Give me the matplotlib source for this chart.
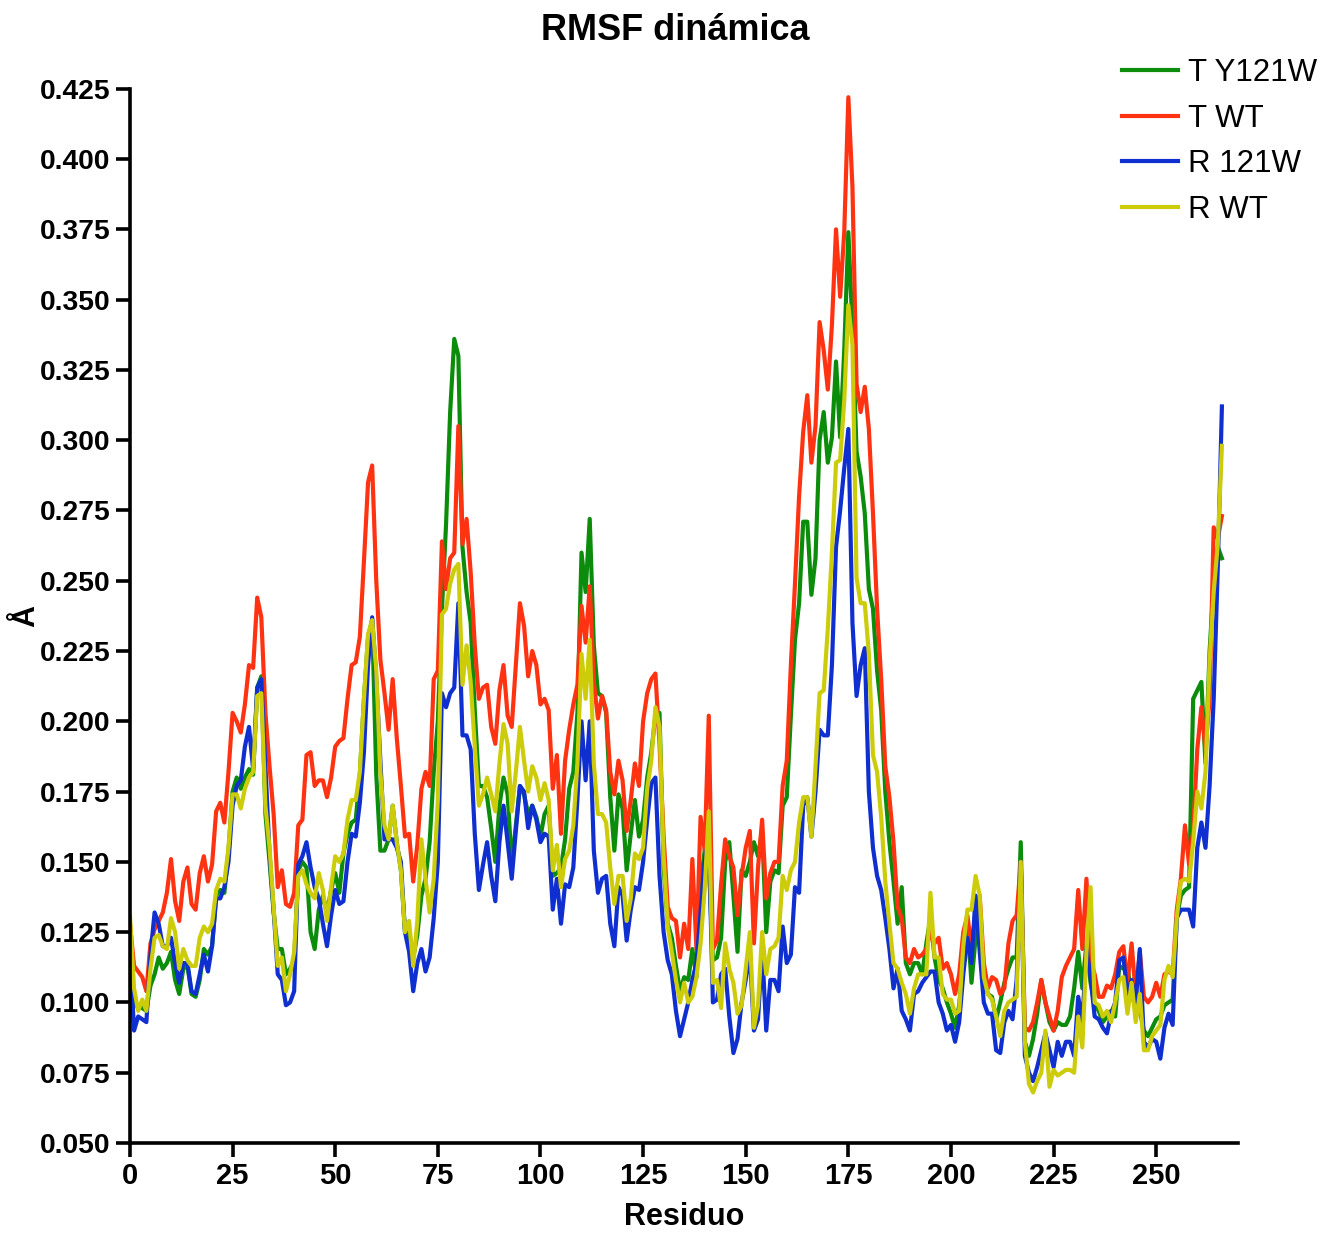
"""
RMSF dinámica: 4 trayectorias (T/R, WT y mutante) por residuo
"""

import numpy as np
import matplotlib
matplotlib.use('Agg')
import matplotlib.pyplot as plt

matplotlib.rcParams['font.family'] = ['Liberation Sans', 'DejaVu Sans']

# RMSF por residuo (Å)
T_Y121W = [
    0.122, 0.100, 0.098, 0.098, 0.097, 0.106, 0.110, 0.116, 0.112, 0.114,
    0.118, 0.108, 0.103, 0.112, 0.113, 0.103, 0.102, 0.108, 0.119, 0.117,
    0.120, 0.138, 0.140, 0.139, 0.154, 0.175, 0.180, 0.176, 0.180, 0.183,
    0.181, 0.212, 0.216, 0.167, 0.150, 0.132, 0.119, 0.119, 0.110, 0.112,
    0.115, 0.147, 0.150, 0.148, 0.125, 0.119, 0.133, 0.138, 0.132, 0.140,
    0.146, 0.139, 0.153, 0.160, 0.164, 0.165, 0.181, 0.208, 0.230, 0.236,
    0.181, 0.154, 0.154, 0.158, 0.170, 0.157, 0.147, 0.125, 0.125, 0.116,
    0.124, 0.138, 0.144, 0.157, 0.182, 0.200, 0.240, 0.270, 0.310, 0.336,
    0.330, 0.262, 0.246, 0.235, 0.204, 0.177, 0.177, 0.173, 0.162, 0.150,
    0.170, 0.180, 0.174, 0.149, 0.163, 0.177, 0.174, 0.167, 0.170, 0.166,
    0.159, 0.167, 0.170, 0.145, 0.146, 0.148, 0.158, 0.176, 0.182, 0.203,
    0.260, 0.246, 0.272, 0.227, 0.210, 0.209, 0.203, 0.173, 0.154, 0.174,
    0.169, 0.147, 0.160, 0.172, 0.159, 0.165, 0.180, 0.189, 0.202, 0.203,
    0.148, 0.128, 0.123, 0.113, 0.104, 0.109, 0.108, 0.119, 0.109, 0.142,
    0.154, 0.150, 0.115, 0.116, 0.123, 0.150, 0.157, 0.138, 0.118, 0.147,
    0.145, 0.150, 0.157, 0.152, 0.161, 0.125, 0.143, 0.147, 0.146, 0.170,
    0.173, 0.202, 0.229, 0.242, 0.271, 0.271, 0.245, 0.258, 0.300, 0.310,
    0.292, 0.301, 0.328, 0.301, 0.332, 0.374, 0.340, 0.296, 0.287, 0.274,
    0.247, 0.240, 0.218, 0.204, 0.175, 0.157, 0.143, 0.128, 0.141, 0.114,
    0.110, 0.114, 0.114, 0.110, 0.121, 0.130, 0.116, 0.108, 0.105, 0.100,
    0.096, 0.091, 0.099, 0.115, 0.129, 0.107, 0.123, 0.133, 0.109, 0.103,
    0.102, 0.094, 0.100, 0.107, 0.112, 0.116, 0.116, 0.157, 0.086, 0.081,
    0.087, 0.096, 0.108, 0.100, 0.093, 0.090, 0.093, 0.092, 0.092, 0.095,
    0.105, 0.118, 0.105, 0.121, 0.107, 0.099, 0.097, 0.093, 0.095, 0.097,
    0.095, 0.113, 0.112, 0.113, 0.101, 0.105, 0.097, 0.090, 0.088, 0.091,
    0.094, 0.095, 0.099, 0.100, 0.101, 0.130, 0.138, 0.140, 0.141, 0.208,
    0.211, 0.214, 0.185, 0.225, 0.249, 0.262, 0.258,
]

T_WT = [
    0.128, 0.113, 0.111, 0.109, 0.104, 0.121, 0.126, 0.129, 0.132, 0.139,
    0.151, 0.136, 0.129, 0.143, 0.148, 0.135, 0.133, 0.146, 0.152, 0.143,
    0.149, 0.168, 0.171, 0.164, 0.182, 0.203, 0.200, 0.196, 0.206, 0.220,
    0.219, 0.244, 0.237, 0.203, 0.184, 0.167, 0.141, 0.147, 0.135, 0.134,
    0.139, 0.163, 0.165, 0.188, 0.189, 0.177, 0.179, 0.179, 0.173, 0.180,
    0.191, 0.193, 0.194, 0.208, 0.220, 0.221, 0.230, 0.257, 0.285, 0.291,
    0.250, 0.222, 0.210, 0.197, 0.215, 0.194, 0.177, 0.159, 0.160, 0.143,
    0.156, 0.176, 0.182, 0.177, 0.215, 0.218, 0.264, 0.247, 0.258, 0.260,
    0.305, 0.263, 0.272, 0.253, 0.227, 0.208, 0.212, 0.213, 0.198, 0.192,
    0.211, 0.220, 0.202, 0.198, 0.220, 0.242, 0.234, 0.216, 0.225, 0.220,
    0.206, 0.208, 0.204, 0.176, 0.188, 0.160, 0.186, 0.197, 0.206, 0.213,
    0.241, 0.228, 0.248, 0.214, 0.201, 0.209, 0.204, 0.182, 0.174, 0.186,
    0.179, 0.161, 0.172, 0.185, 0.177, 0.200, 0.210, 0.215, 0.217, 0.192,
    0.159, 0.134, 0.130, 0.129, 0.116, 0.128, 0.119, 0.151, 0.119, 0.166,
    0.154, 0.202, 0.119, 0.122, 0.142, 0.158, 0.152, 0.148, 0.131, 0.145,
    0.155, 0.161, 0.121, 0.148, 0.165, 0.137, 0.146, 0.150, 0.150, 0.177,
    0.186, 0.220, 0.249, 0.280, 0.303, 0.316, 0.292, 0.305, 0.342, 0.332,
    0.318, 0.341, 0.375, 0.351, 0.374, 0.422, 0.390, 0.320, 0.310, 0.319,
    0.304, 0.274, 0.240, 0.215, 0.184, 0.173, 0.157, 0.134, 0.130, 0.116,
    0.114, 0.119, 0.116, 0.117, 0.119, 0.125, 0.121, 0.123, 0.112, 0.114,
    0.110, 0.103, 0.110, 0.125, 0.131, 0.119, 0.133, 0.138, 0.114, 0.105,
    0.109, 0.108, 0.103, 0.105, 0.121, 0.129, 0.131, 0.150, 0.091, 0.090,
    0.093, 0.100, 0.108, 0.100, 0.095, 0.090, 0.097, 0.109, 0.113, 0.116,
    0.119, 0.140, 0.119, 0.144, 0.115, 0.110, 0.102, 0.102, 0.106, 0.105,
    0.110, 0.118, 0.120, 0.107, 0.121, 0.103, 0.118, 0.102, 0.100, 0.102,
    0.107, 0.102, 0.110, 0.111, 0.110, 0.133, 0.144, 0.163, 0.149, 0.161,
    0.190, 0.205, 0.190, 0.208, 0.269, 0.265, 0.273,
]

R_121W = [
    0.118, 0.090, 0.095, 0.094, 0.093, 0.117, 0.132, 0.128, 0.120, 0.120,
    0.123, 0.114, 0.107, 0.114, 0.114, 0.104, 0.103, 0.110, 0.117, 0.111,
    0.120, 0.137, 0.137, 0.141, 0.150, 0.170, 0.177, 0.179, 0.191, 0.198,
    0.183, 0.212, 0.215, 0.184, 0.153, 0.133, 0.110, 0.108, 0.099, 0.100,
    0.104, 0.149, 0.152, 0.157, 0.148, 0.141, 0.137, 0.128, 0.120, 0.131,
    0.140, 0.135, 0.136, 0.150, 0.160, 0.159, 0.171, 0.189, 0.220, 0.237,
    0.215, 0.186, 0.158, 0.158, 0.158, 0.155, 0.150, 0.125, 0.118, 0.104,
    0.114, 0.119, 0.111, 0.116, 0.130, 0.150, 0.210, 0.205, 0.210, 0.212,
    0.242, 0.195, 0.195, 0.190, 0.160, 0.140, 0.149, 0.157, 0.145, 0.136,
    0.157, 0.170, 0.157, 0.144, 0.161, 0.177, 0.175, 0.162, 0.170, 0.165,
    0.157, 0.160, 0.159, 0.133, 0.144, 0.128, 0.142, 0.141, 0.148, 0.172,
    0.200, 0.179, 0.200, 0.154, 0.139, 0.144, 0.145, 0.128, 0.120, 0.141,
    0.138, 0.122, 0.133, 0.141, 0.140, 0.150, 0.165, 0.178, 0.180, 0.145,
    0.125, 0.115, 0.110, 0.097, 0.088, 0.094, 0.100, 0.108, 0.114, 0.132,
    0.150, 0.159, 0.100, 0.101, 0.110, 0.112, 0.095, 0.082, 0.087, 0.100,
    0.108, 0.118, 0.090, 0.094, 0.119, 0.090, 0.108, 0.108, 0.104, 0.127,
    0.114, 0.117, 0.141, 0.139, 0.170, 0.173, 0.159, 0.175, 0.197, 0.195,
    0.195, 0.220, 0.262, 0.275, 0.290, 0.304, 0.235, 0.209, 0.220, 0.226,
    0.175, 0.155, 0.145, 0.140, 0.130, 0.119, 0.105, 0.112, 0.097, 0.094,
    0.090, 0.103, 0.104, 0.107, 0.109, 0.111, 0.111, 0.100, 0.096, 0.090,
    0.092, 0.086, 0.093, 0.110, 0.123, 0.114, 0.138, 0.118, 0.100, 0.096,
    0.096, 0.083, 0.082, 0.093, 0.097, 0.094, 0.108, 0.150, 0.081, 0.075,
    0.072, 0.077, 0.083, 0.089, 0.083, 0.077, 0.086, 0.081, 0.086, 0.086,
    0.081, 0.102, 0.093, 0.119, 0.109, 0.095, 0.094, 0.091, 0.089, 0.096,
    0.100, 0.115, 0.116, 0.103, 0.108, 0.100, 0.119, 0.086, 0.084, 0.087,
    0.086, 0.080, 0.091, 0.096, 0.092, 0.130, 0.133, 0.133, 0.133, 0.127,
    0.155, 0.164, 0.155, 0.177, 0.208, 0.255, 0.312,
]

R_WT = [
    0.131, 0.105, 0.097, 0.101, 0.097, 0.112, 0.123, 0.124, 0.120, 0.119,
    0.130, 0.125, 0.112, 0.119, 0.115, 0.113, 0.113, 0.123, 0.127, 0.125,
    0.128, 0.140, 0.144, 0.143, 0.155, 0.174, 0.174, 0.169, 0.176, 0.180,
    0.182, 0.209, 0.210, 0.170, 0.155, 0.134, 0.113, 0.116, 0.104, 0.110,
    0.118, 0.145, 0.147, 0.142, 0.139, 0.137, 0.146, 0.140, 0.129, 0.141,
    0.152, 0.150, 0.153, 0.165, 0.172, 0.172, 0.182, 0.208, 0.231, 0.236,
    0.218, 0.182, 0.163, 0.158, 0.170, 0.157, 0.147, 0.125, 0.129, 0.113,
    0.129, 0.158, 0.144, 0.132, 0.144, 0.172, 0.238, 0.240, 0.249, 0.254,
    0.256, 0.213, 0.227, 0.214, 0.191, 0.170, 0.174, 0.180, 0.174, 0.168,
    0.185, 0.199, 0.192, 0.168, 0.182, 0.198, 0.186, 0.175, 0.184, 0.180,
    0.172, 0.178, 0.172, 0.147, 0.156, 0.141, 0.151, 0.154, 0.163, 0.185,
    0.224, 0.208, 0.229, 0.185, 0.167, 0.167, 0.164, 0.148, 0.135, 0.145,
    0.145, 0.129, 0.137, 0.153, 0.151, 0.155, 0.176, 0.186, 0.205, 0.198,
    0.152, 0.127, 0.118, 0.108, 0.100, 0.107, 0.100, 0.102, 0.109, 0.121,
    0.140, 0.168, 0.107, 0.108, 0.098, 0.121, 0.112, 0.107, 0.096, 0.099,
    0.112, 0.125, 0.091, 0.099, 0.125, 0.110, 0.119, 0.120, 0.123, 0.145,
    0.140, 0.147, 0.150, 0.164, 0.173, 0.173, 0.159, 0.184, 0.210, 0.211,
    0.233, 0.260, 0.292, 0.293, 0.314, 0.348, 0.334, 0.251, 0.242, 0.242,
    0.224, 0.188, 0.182, 0.166, 0.143, 0.128, 0.114, 0.112, 0.107, 0.103,
    0.096, 0.105, 0.110, 0.110, 0.110, 0.139, 0.116, 0.116, 0.103, 0.101,
    0.101, 0.096, 0.097, 0.120, 0.133, 0.133, 0.145, 0.138, 0.109, 0.103,
    0.101, 0.095, 0.088, 0.097, 0.100, 0.101, 0.102, 0.150, 0.086, 0.071,
    0.068, 0.072, 0.075, 0.090, 0.070, 0.076, 0.074, 0.075, 0.076, 0.076,
    0.075, 0.095, 0.084, 0.118, 0.141, 0.100, 0.099, 0.095, 0.097, 0.093,
    0.100, 0.108, 0.109, 0.096, 0.107, 0.093, 0.103, 0.083, 0.083, 0.088,
    0.090, 0.092, 0.108, 0.113, 0.109, 0.130, 0.143, 0.144, 0.143, 0.157,
    0.175, 0.169, 0.182, 0.221, 0.246, 0.263, 0.298,
]

SERIES = [
    ('T Y121W', T_Y121W, '#0b8c0b'),
    ('T WT',    T_WT,    '#ff3311'),
    ('R 121W',  R_121W,  '#0f2fd0'),
    ('R WT',    R_WT,    '#cccc0a'),
]

X_TICKS = list(range(0, 275, 25))
Y_TICKS = [0.050, 0.075, 0.100, 0.125, 0.150, 0.175, 0.200, 0.225,
           0.250, 0.275, 0.300, 0.325, 0.350, 0.375, 0.400, 0.425]


def main():
    fig = plt.figure(figsize=(13.37, 12.33), dpi=100)
    ax = fig.add_axes([0.0972, 0.073, 0.829, 0.855])

    for name, vals, color in SERIES:
        ax.plot(np.arange(len(vals)), vals, color=color, lw=3.0, label=name)

    ax.set_xlim(0, 270)
    ax.set_ylim(0.05, 0.425)
    ax.set_xticks(X_TICKS)
    ax.set_yticks(Y_TICKS)
    ax.set_yticklabels([f'{v:.3f}' for v in Y_TICKS])

    for lab in ax.get_xticklabels():
        lab.set_fontweight('bold')
        lab.set_fontsize(21)
    for lab in ax.get_yticklabels():
        lab.set_fontweight('bold')
        lab.set_fontsize(20.3)
    ax.tick_params(direction='out', length=10, width=2.6, pad=4)

    for side in ['top', 'right']:
        ax.spines[side].set_visible(False)
    for side in ['left', 'bottom']:
        ax.spines[side].set_linewidth(2.6)

    ax.set_xlabel('Residuo', fontsize=22, fontweight='bold', labelpad=8)
    ax.set_ylabel('Å', fontsize=22, fontweight='bold')
    ax.yaxis.set_label_coords(-0.08, 0.5)
    fig.text(0.505, 0.975, 'RMSF dinámica', ha='center', va='center',
             fontsize=26, fontweight='bold')

    fig.legend(loc='upper left', bbox_to_anchor=(0.8295, 0.963), frameon=False,
               fontsize=22.5, handlelength=1.82, handletextpad=0.3,
               labelspacing=0.5, borderaxespad=0)

    fig.savefig('out.png', dpi=100)
    plt.close(fig)


if __name__ == '__main__':
    main()
